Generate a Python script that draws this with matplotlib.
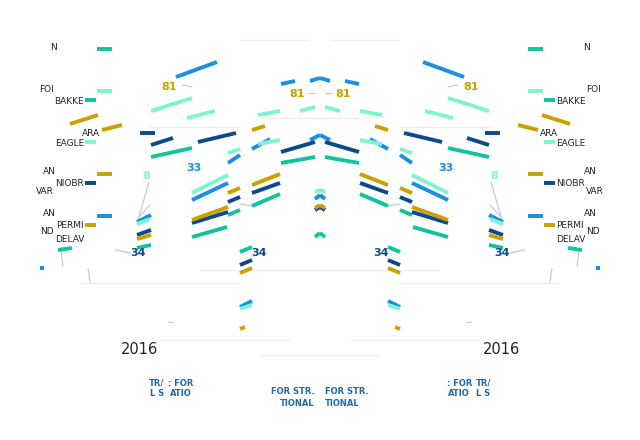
"""Mirrored, sliced line-chart fragments (shale play legend, 2016)."""

import matplotlib
matplotlib.use("Agg")
import matplotlib.pyplot as plt

# segment data: ((x0, y0), (x1, y1)) in half-panel units, y grows downward
blue_segs = [((103, 62), (144, 77)), ((0, 78), (10, 81)), ((25, 81), (39, 84)),
             ((0, 135), (10, 140)), ((50, 139), (68, 149)), ((80, 155), (92, 163)),
             ((92, 183), (128, 200)), ((0, 195), (5, 199)), ((169, 215), (183, 222)),
             ((68, 301), (80, 307)), ((208, 216), (223, 216)), ((276, 268), (280, 268))]
aqua_segs = [((128, 98), (169, 111)), ((5, 107), (20, 111)), ((40, 111), (62, 115)),
             ((105, 111), (133, 118)), ((40, 140), (62, 144)), ((80, 149), (92, 153)),
             ((92, 175), (128, 193)), ((0, 190), (5, 192)), ((170, 219), (183, 224)),
             ((68, 305), (80, 309)), ((208, 91), (223, 91)), ((224, 142), (235, 142))]
teal_segs = [((128, 148), (169, 157)), ((5, 157), (39, 163)), ((40, 194), (68, 206)),
             ((80, 210), (92, 215)), ((93, 227), (128, 237)), ((0, 233), (5, 237)),
             ((68, 247), (80, 252)), ((169, 245), (183, 248)), ((208, 49), (223, 49)),
             ((224, 100), (235, 100)), ((248, 248), (262, 250))]
navy_segs = [((84, 133), (122, 142)), ((147, 138), (169, 145)), ((165, 133), (180, 133)),
             ((5, 142), (39, 152)), ((40, 183), (68, 193)), ((80, 197), (92, 202)),
             ((92, 212), (128, 223)), ((0, 207), (5, 210)), ((68, 260), (80, 265)),
             ((169, 230), (183, 235)), ((224, 183), (235, 183))]
gold_segs = [((55, 126), (68, 130)), ((40, 174), (68, 185)), ((80, 188), (92, 193)),
             ((92, 207), (128, 220)), ((0, 205), (5, 208)), ((68, 268), (80, 273)),
             ((169, 235), (183, 239)), ((75, 327), (80, 329)), ((208, 174), (223, 174)),
             ((224, 225), (235, 225)), ((222, 115), (250, 124)), ((198, 125), (218, 130))]
leader_segs = [((128, 87), (138, 85)), ((5, 93), (12, 93)), ((68, 206), (80, 204)),
               ((171, 182), (182, 220)), ((170, 205), (182, 218)), ((189, 253), (205, 250)),
               ((259, 250), (257, 267)), ((232, 268), (230, 282)), ((147, 323), (152, 322))]
grid_segs = [((10, 40), (80, 40)), ((0, 118), (60, 118)), ((80, 127), (170, 127)),
             ((0, 270), (120, 270)), ((80, 283), (240, 283)), ((30, 340), (160, 340)),
             ((0, 355), (60, 355))]

# text fragments: (x, y, text)
legend_labels = [(263, 48, "N"), (266, 90, "FOI"), (236, 101, "BAKKE"), (220, 133, "ARA"),
                 (236, 143, "EAGLE"), (264, 172, "AN"), (236, 184, "NIOBR"), (266, 192, "VAR"),
                 (264, 213, "AN"), (236, 226, "PERMI"), (266, 232, "ND"), (236, 240, "DELAV")]
value_labels = [(143, 87, "81", "#c9a100"), (15, 94, "81", "#c9a100"),
                (53, 253, "34", "#0b4a8c"), (174, 253, "34", "#0b4a8c"),
                (118, 168, "33", "#1a8fe3"), (170, 176, "8", "#7ff5cf")]
source_labels = [(5, 392, "FOR STR."), (5, 403, "TIONAL"), (127, 383, ": FOR"),
                 (156, 383, "TR/"), (128, 393, "ATIO"), (156, 393, "L S")]
year_label = "2016"

colors = {"blue": "#1a8fe3", "aqua": "#7ff5cf", "teal": "#12c49c",
          "navy": "#0b4a8c", "gold": "#c9a100"}
series = [(grid_segs, "#f0f0f0", 1.0), (leader_segs, "#c4c4c4", 0.8),
          (blue_segs, colors["blue"], 2.8), (aqua_segs, colors["aqua"], 2.8),
          (teal_segs, colors["teal"], 2.8), (navy_segs, colors["navy"], 2.8),
          (gold_segs, colors["gold"], 2.8)]


def draw_half(ax, mirrored):
    ax.set_xlim((320, 0) if mirrored else (0, 320))
    ax.set_ylim(440, 0)
    ax.axis("off")
    for segs, color, lw in series:
        for (x0, y0), (x1, y1) in segs:
            ax.plot([x0, x1], [y0, y1], color=color, lw=lw, solid_capstyle="butt")
    ha = "right" if mirrored else "left"
    for x, y, s in legend_labels:
        ax.text(x, y, s, fontsize=6.5, color="#222222", ha=ha, va="center")
    for x, y, s, c in value_labels:
        ax.text(x, y, s, fontsize=8, color=c, fontweight="bold", ha=ha, va="center")
    for x, y, s in source_labels:
        ax.text(x, y, s, fontsize=6, color="#1f6aa5", fontweight="bold", ha=ha, va="center")
    ax.text(181, 350, year_label, fontsize=10.5, color="#222222", ha="center", va="center")


fig = plt.figure(figsize=(6.4, 4.4), dpi=100)
left = fig.add_axes([0, 0, 0.5, 1])
right = fig.add_axes([0.5, 0, 0.5, 1])
draw_half(left, mirrored=True)
draw_half(right, mirrored=False)

fig.savefig("out.png", dpi=100)
plt.close(fig)
